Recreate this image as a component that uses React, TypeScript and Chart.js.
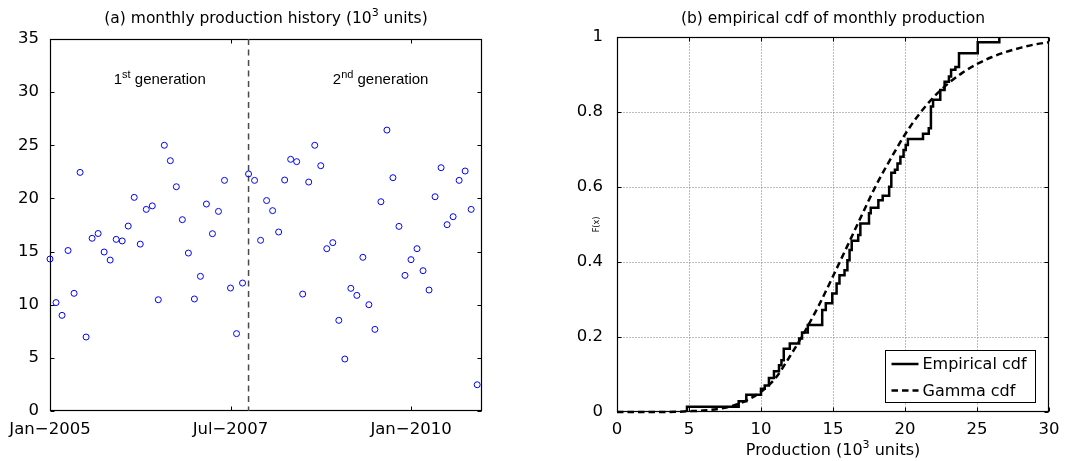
import React, { useEffect, useRef } from 'react';
import { Chart, registerables } from 'chart.js';

Chart.register(...registerables);

const FONT = "'DejaVu Sans', 'Liberation Sans', sans-serif";
const FONT_ANNOT = "'Liberation Sans', Arial, sans-serif";

// ---------- Panel (a): monthly production history ----------
const production = [
  14.3, 10.2, 9.0, 15.1, 11.07, 22.45, 6.96, 16.25, 16.7, 14.96, 14.2, 16.15,
  16.0, 17.4, 20.1, 15.7, 18.97, 19.3, 10.47, 25.0, 23.55, 21.1, 18.0, 14.86,
  10.54, 12.67, 19.47, 16.68, 18.78, 21.7, 11.57, 7.28, 12.04, 22.3, 21.7, 16.06,
  19.8, 18.85, 16.84, 21.73, 23.68, 23.46, 11.0, 21.54, 25.0, 23.08, 15.27, 15.84,
  8.53, 4.89, 11.54, 10.88, 14.46, 10.0, 7.68, 19.69, 26.43, 21.95, 17.37, 12.76,
  14.24, 15.27, 13.2, 11.38, 20.16, 22.89, 17.53, 18.28, 21.7, 22.58, 18.97, 2.47,
];
const monthIndex = production.map((_, i) => i); // months since Jan-2005
const xTickMonthsA = [0, 30, 60];
const xTickLabelsA = ['Jan\u22122005', 'Jul\u22122007', 'Jan\u22122010'];
const yTicksA = [0, 5, 10, 15, 20, 25, 30, 35];
const xMaxA = 71.8;
const generationSplitMonth = 33;
const annotX = [10.6, 47.0];
const annotY = [31.2, 31.2];
const annotText = [
  ['1', 'st', ' generation'],
  ['2', 'nd', ' generation'],
];

// ---------- Panel (b): empirical cdf ----------
const ecdfX = [
  4.86, 4.86, 8.45, 8.98, 10.0, 10.26, 10.55, 10.9, 11.25, 11.42,
  11.58, 12.0, 12.65, 12.85, 13.25, 14.25, 14.5, 14.95, 15.25, 15.45,
  15.8, 16.0, 16.15, 16.3, 16.75, 16.9, 17.5, 17.62, 18.15, 18.45,
  18.9, 19.05, 19.3, 19.48, 19.68, 19.9, 20.05, 20.2, 21.25, 21.65,
  21.8, 21.95, 22.45, 22.75, 23.05, 23.2, 23.5, 23.75, 25.05, 26.55,
];
const ecdfF = [
  0, 0.014, 0.029, 0.046, 0.062, 0.071, 0.091, 0.109, 0.125, 0.138,
  0.169, 0.183, 0.196, 0.212, 0.232, 0.272, 0.29, 0.316, 0.343, 0.365,
  0.378, 0.405, 0.432, 0.457, 0.472, 0.503, 0.53, 0.545, 0.565, 0.577,
  0.601, 0.638, 0.646, 0.663, 0.681, 0.699, 0.712, 0.728, 0.742, 0.757,
  0.815, 0.833, 0.859, 0.881, 0.895, 0.913, 0.92, 0.957, 0.986, 1.0,
];
const gammaX = [0, 1, 2, 3, 4, 5, 6, 7, 8, 9, 10, 11, 12, 13, 14, 15, 16, 17, 18, 19, 20, 21, 22, 23, 24, 25, 26, 27, 28, 29, 30];
const gammaF = [
  0, 0, 0, 0, 0.0005, 0.002, 0.004, 0.008, 0.016, 0.031, 0.054, 0.09, 0.148, 0.212, 0.283, 0.362,
  0.443, 0.525, 0.605, 0.675, 0.74, 0.795, 0.84, 0.876, 0.905, 0.928, 0.946, 0.96, 0.971, 0.98, 0.986,
];
const xTicksB = [0, 5, 10, 15, 20, 25, 30];
const yTicksB = [0, 0.2, 0.4, 0.6, 0.8, 1];
const yTickLabelsB = ['0', '0.2', '0.4', '0.6', '0.8', '1'];
const legendLabels = ['Empirical cdf', 'Gamma cdf'];

type Seg = { t: string; sup?: boolean };

function drawRich(ctx: CanvasRenderingContext2D, segs: Seg[], x: number, y: number, align: 'left' | 'center', size: number, family: string = FONT) {
  ctx.save();
  ctx.textBaseline = 'alphabetic';
  ctx.textAlign = 'left';
  ctx.fillStyle = '#000';
  const supSize = Math.round(size * 0.7);
  const widths = segs.map((s) => {
    ctx.font = `${s.sup ? supSize : size}px ${family}`;
    return ctx.measureText(s.t).width;
  });
  const total = widths.reduce((a, b) => a + b, 0);
  let cx = align === 'center' ? x - total / 2 : x;
  segs.forEach((s, i) => {
    ctx.font = `${s.sup ? supSize : size}px ${family}`;
    ctx.fillText(s.t, cx, s.sup ? y - size * 0.42 : y);
    cx += widths[i];
  });
  ctx.restore();
}

function makeFramePlugin(xTicks: number[], yTicks: number[], grid: boolean) {
  return {
    id: 'frame',
    beforeDatasetsDraw(chart: any) {
      const { ctx, chartArea: a, scales } = chart;
      const L = Math.round(a.left) + 0.5;
      const R = Math.round(a.right) - 0.5;
      const T = Math.round(a.top) + 0.5;
      const B = Math.round(a.bottom) - 0.5;
      ctx.save();
      if (grid) {
        ctx.strokeStyle = '#7a7a7a';
        ctx.lineWidth = 1;
        ctx.setLineDash([1, 2]);
        xTicks.forEach((v) => {
          const px = Math.round(scales.x.getPixelForValue(v)) + 0.5;
          if (px > L + 2 && px < R - 2) {
            ctx.beginPath();
            ctx.moveTo(px, T);
            ctx.lineTo(px, B);
            ctx.stroke();
          }
        });
        yTicks.forEach((v) => {
          const py = Math.round(scales.y.getPixelForValue(v)) + 0.5;
          if (py > T + 2 && py < B - 2) {
            ctx.beginPath();
            ctx.moveTo(L, py);
            ctx.lineTo(R, py);
            ctx.stroke();
          }
        });
        ctx.setLineDash([]);
      }
      ctx.strokeStyle = '#000';
      ctx.lineWidth = 1;
      const tl = 4;
      xTicks.forEach((v) => {
        const px = Math.round(scales.x.getPixelForValue(v)) + 0.5;
        ctx.beginPath();
        ctx.moveTo(px, B);
        ctx.lineTo(px, B - tl);
        ctx.moveTo(px, T);
        ctx.lineTo(px, T + tl);
        ctx.stroke();
      });
      yTicks.forEach((v) => {
        const py = Math.round(scales.y.getPixelForValue(v)) + 0.5;
        ctx.beginPath();
        ctx.moveTo(L, py);
        ctx.lineTo(L + tl, py);
        ctx.moveTo(R, py);
        ctx.lineTo(R - tl, py);
        ctx.stroke();
      });
      ctx.lineWidth = 1.2;
      ctx.strokeRect(L, T, R - L, B - T);
      ctx.restore();
    },
  };
}

const tickFont = { family: FONT, size: 16.5, lineHeight: 1 };

function ChartA() {
  const ref = useRef<HTMLCanvasElement>(null);
  useEffect(() => {
    if (!ref.current) return;
    const extras = {
      id: 'extrasA',
      beforeDatasetsDraw(chart: any) {
        const { ctx, chartArea: a, scales } = chart;
        ctx.save();
        const px = scales.x.getPixelForValue(generationSplitMonth);
        ctx.strokeStyle = '#4a4a4a';
        ctx.lineWidth = 1.5;
        ctx.setLineDash([6, 4.5]);
        ctx.beginPath();
        ctx.moveTo(px, a.top);
        ctx.lineTo(px, a.bottom);
        ctx.stroke();
        ctx.restore();
      },
      afterDraw(chart: any) {
        const { ctx, chartArea: a, scales } = chart;
        drawRich(ctx, [{ t: '(a) monthly production history (10' }, { t: '3', sup: true }, { t: ' units)' }], (a.left + a.right) / 2, 23, 'center', 15.5);
        annotText.forEach((parts, i) => {
          const x = scales.x.getPixelForValue(annotX[i]);
          const y = scales.y.getPixelForValue(annotY[i]);
          drawRich(ctx, [{ t: parts[0] }, { t: parts[1], sup: true }, { t: parts[2] }], x, y + 5, 'left', 15, FONT_ANNOT);
        });
      },
    };
    const chart = new Chart(ref.current, {
      type: 'scatter',
      data: {
        datasets: [
          {
            data: production.map((v, i) => ({ x: monthIndex[i], y: v })),
            borderColor: '#0000ff',
            backgroundColor: 'rgba(0,0,0,0)',
            borderWidth: 1,
            pointRadius: 3,
            pointStyle: 'circle',
            clip: false as any,
          },
        ],
      },
      options: {
        animation: false,
        responsive: false,
        maintainAspectRatio: false,
        devicePixelRatio: 1,
        events: [],
        layout: { padding: { left: 0, top: 39, right: 58, bottom: 0 } },
        plugins: { legend: { display: false }, tooltip: { enabled: false }, title: { display: false } },
        scales: {
          x: {
            type: 'linear',
            min: 0,
            max: xMaxA,
            grid: { display: false },
            border: { display: false },
            afterBuildTicks: (s: any) => {
              s.ticks = xTickMonthsA.map((v) => ({ value: v }));
            },
            afterFit: (s: any) => {
              s.height = 50;
            },
            ticks: {
              autoSkip: false,
              maxRotation: 0,
              minRotation: 0,
              padding: 2,
              color: '#000',
              font: tickFont,
              callback: (_v: any, i: number) => xTickLabelsA[i],
            },
          },
          y: {
            type: 'linear',
            min: 0,
            max: 35,
            grid: { display: false },
            border: { display: false },
            afterBuildTicks: (s: any) => {
              s.ticks = yTicksA.map((v) => ({ value: v }));
            },
            afterFit: (s: any) => {
              s.width = 50;
            },
            ticks: {
              autoSkip: false,
              padding: 3,
              color: '#000',
              font: tickFont,
              callback: (_v: any, i: number) => String(yTicksA[i]),
            },
          },
        },
      },
      plugins: [makeFramePlugin(xTickMonthsA, yTicksA, false), extras],
    });
    return () => chart.destroy();
  }, []);
  return <canvas ref={ref} width={540} height={461} style={{ position: 'absolute', left: 0, top: 0, width: 540, height: 461 }} />;
}

function ChartB() {
  const ref = useRef<HTMLCanvasElement>(null);
  useEffect(() => {
    if (!ref.current) return;
    const extras = {
      id: 'extrasB',
      afterDatasetsDraw(chart: any) {
        const { ctx, chartArea: a } = chart;
        ctx.save();
        // legend
        const bx = Math.round(a.right) - 14 - 150 + 0.5;
        const by = Math.round(a.bottom) - 10 - 52 + 0.5;
        ctx.fillStyle = '#fff';
        ctx.fillRect(bx, by, 150, 52);
        ctx.strokeStyle = '#000';
        ctx.lineWidth = 1;
        ctx.strokeRect(bx, by, 150, 52);
        const rows = [by + 13.5, by + 40];
        ctx.lineWidth = 2.5;
        ctx.beginPath();
        ctx.moveTo(bx + 6, rows[0]);
        ctx.lineTo(bx + 33, rows[0]);
        ctx.stroke();
        ctx.setLineDash([6.5, 4]);
        ctx.beginPath();
        ctx.moveTo(bx + 6, rows[1]);
        ctx.lineTo(bx + 33, rows[1]);
        ctx.stroke();
        ctx.setLineDash([]);
        ctx.fillStyle = '#000';
        ctx.font = `16px ${FONT}`;
        ctx.textBaseline = 'middle';
        ctx.textAlign = 'left';
        ctx.fillText(legendLabels[0], bx + 37, rows[0] + 1);
        ctx.fillText(legendLabels[1], bx + 37, rows[1] + 1);
        ctx.restore();
      },
      afterDraw(chart: any) {
        const { ctx, chartArea: a } = chart;
        const cx = (a.left + a.right) / 2;
        drawRich(ctx, [{ t: '(b) empirical cdf of monthly production' }], cx, 23, 'center', 15.5);
        drawRich(ctx, [{ t: 'Production (10' }, { t: '3', sup: true }, { t: ' units)' }], cx, 455, 'center', 16);
        ctx.save();
        ctx.translate(57, (a.top + a.bottom) / 2);
        ctx.rotate(-Math.PI / 2);
        ctx.font = `8px ${FONT}`;
        ctx.fillStyle = '#000';
        ctx.textAlign = 'center';
        ctx.textBaseline = 'middle';
        ctx.fillText('F(x)', 0, 0);
        ctx.restore();
      },
    };
    const chart = new Chart(ref.current, {
      type: 'line',
      data: {
        datasets: [
          {
            label: legendLabels[0],
            data: ecdfX.map((x, i) => ({ x, y: ecdfF[i] })),
            borderColor: '#000',
            borderWidth: 2.5,
            pointRadius: 0,
            fill: false,
            stepped: 'before',
            clip: false as any,
          },
          {
            label: legendLabels[1],
            data: gammaX.map((x, i) => ({ x, y: gammaF[i] })),
            borderColor: '#000',
            borderWidth: 2.5,
            borderDash: [6.5, 4],
            pointRadius: 0,
            fill: false,
            cubicInterpolationMode: 'monotone',
            clip: false as any,
          },
        ],
      },
      options: {
        animation: false,
        responsive: false,
        maintainAspectRatio: false,
        devicePixelRatio: 1,
        events: [],
        layout: { padding: { left: 0, top: 37, right: 16, bottom: 0 } },
        plugins: { legend: { display: false }, tooltip: { enabled: false }, title: { display: false } },
        scales: {
          x: {
            type: 'linear',
            min: 0,
            max: 30,
            grid: { display: false },
            border: { display: false },
            afterBuildTicks: (s: any) => {
              s.ticks = xTicksB.map((v) => ({ value: v }));
            },
            afterFit: (s: any) => {
              s.height = 49;
            },
            ticks: {
              autoSkip: false,
              maxRotation: 0,
              minRotation: 0,
              padding: 1,
              color: '#000',
              font: tickFont,
              callback: (_v: any, i: number) => String(xTicksB[i]),
            },
          },
          y: {
            type: 'linear',
            min: 0,
            max: 1,
            grid: { display: false },
            border: { display: false },
            afterBuildTicks: (s: any) => {
              s.ticks = yTicksB.map((v) => ({ value: v }));
            },
            afterFit: (s: any) => {
              s.width = 77;
            },
            ticks: {
              autoSkip: false,
              padding: 6,
              color: '#000',
              font: tickFont,
              callback: (_v: any, i: number) => yTickLabelsB[i],
            },
          },
        },
      },
      plugins: [makeFramePlugin(xTicksB, yTicksB, true), extras],
    });
    return () => chart.destroy();
  }, []);
  return <canvas ref={ref} width={525} height={461} style={{ position: 'absolute', left: 540, top: 0, width: 525, height: 461 }} />;
}

export default function App() {
  return (
    <div style={{ position: 'fixed', left: 0, top: 0, width: 1065, height: 461, background: '#fff', overflow: 'hidden' }}>
      <ChartA />
      <ChartB />
    </div>
  );
}
